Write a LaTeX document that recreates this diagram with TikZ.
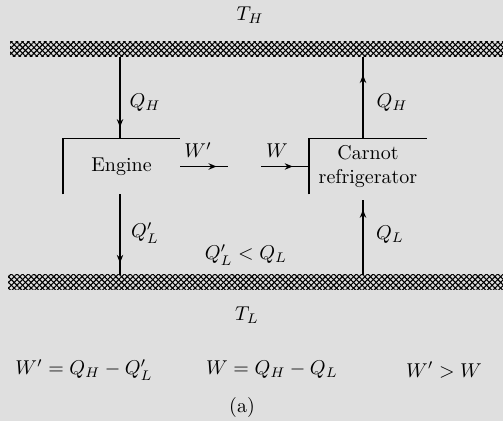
\documentclass[tikz,border=0pt]{standalone}
\usepackage{amsmath}
\usepackage{tikz}
\usetikzlibrary{arrows.meta, decorations.markings, patterns.meta, calc}

\definecolor{paper}{gray}{0.875}

\tikzset{
  pipe/.style={line width=0.9pt},
  flow/.style={pipe, postaction={decorate}, decoration={markings,
      mark=at position #1 with {\arrow{Stealth[length=4pt,width=3.2pt]}}}},
  openbox/.style={minimum width=58.5pt, minimum height=27.5pt, inner sep=0pt,
      align=center},
  reservoir/.style={pattern={Lines[angle=45,distance=2pt,line width=0.55pt]}},
  reservoirx/.style={pattern={Lines[angle=-45,distance=2pt,line width=0.55pt]}},
}

\begin{document}
\begin{tikzpicture}[x=0.5pt, y=-0.5pt]
    \fill[paper] (0,0) rectangle (503,421);
    \useasboundingbox (0,0) rectangle (503,421);

    % reservoirs
    \fill[reservoir] (10,42) rectangle (503,57);
    \fill[reservoirx] (10,42) rectangle (503,57);
    \fill[reservoir] (8,275) rectangle (503,290);
    \fill[reservoirx] (8,275) rectangle (503,290);
    \node (hot) at (250,15) {$T_H$};
    \node (cold) at (247,315) {$T_L$};

    % the two machines, open on two sides
    \node[openbox] (engine) at (121.5,166.5) {Engine};
    \node[openbox] (fridge) at (368,166.5) {Carnot\\refrigerator};
    \draw[pipe] (engine.south west) -- (engine.north west) -- (engine.north east);
    \draw[pipe] (fridge.south west) -- (fridge.north west) -- (fridge.north east);

    \coordinate (hotL) at (120,57);
    \coordinate (coldL) at (120,275);
    \coordinate (hotR) at (363,57);
    \coordinate (coldR) at (363,275);
    \coordinate (fridgeIn) at (363,200);
    \coordinate (wOut) at (228,166.5);
    \coordinate (wIn) at (261,166.5);

    % heat flows
    \draw[flow=0.86] (hotL) -- (hotL |- engine.north);
    \draw[flow=0.85] (hotL |- engine.south) -- (coldL);
    \draw[flow=0.78] (hotR |- fridge.north) -- (hotR);
    \draw[flow=0.87] (coldR) -- (fridgeIn);

    % work
    \draw[flow=0.76] (engine.east) -- (wOut);
    \draw[flow=0.66] (wIn) -- (fridge.west);

    % labels
    \node (qhl) at (145,103) {$Q_H$};
    \node (qhr) at (392,103) {$Q_H$};
    \node (qll) at (145,233) {$Q_L'$};
    \node (qlr) at (390,235) {$Q_L$};
    \node (wp) at (198,150) {$W'$};
    \node (w) at (277,151) {$W$};
    \node (cmp) at (246,255) {$Q_L' < Q_L$};

    % relations
    \node (eq1) at (84,370) {$W' = Q_H - Q_L'$};
    \node (eq2) at (272,370) {$W = Q_H - Q_L$};
    \node (eq3) at (444,370) {$W' > W$};
    \node (cap) at (242,408) {(a)};
\end{tikzpicture}
\end{document}
